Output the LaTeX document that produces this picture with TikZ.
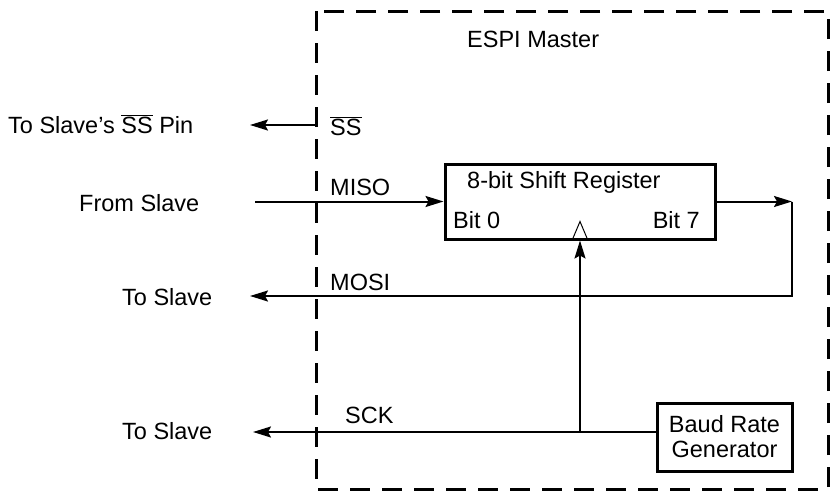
\documentclass[tikz,border=0pt]{standalone}
\usepackage{fontspec}
\setmainfont{Liberation Sans}
\usetikzlibrary{arrows.meta, positioning}

\begin{document}
\begin{tikzpicture}[x=1pt, y=-1pt,
      every node/.style={font=\fontsize{23.5}{25}\selectfont, inner sep=0pt},
      box/.style={draw, line width=3pt, minimum width=270pt, minimum height=75pt},
      gen/.style={draw, line width=3pt, align=center, minimum width=135pt,
                  minimum height=68pt},
      arr/.style={-{Stealth[length=18pt, width=11pt, inset=3pt]}, line width=2pt},
      frame/.style={line width=3pt, dash pattern=on 20pt off 12pt}
    ]
    \useasboundingbox (0,0) rectangle (830,493);

    % ESPI master outline
    \draw[frame] (316,11) rectangle (828,489);
    \node[anchor=base west] (title) at (467,47) {ESPI Master};

    \node[box] (sreg) at (580,201.5) {};
    \node[anchor=base west] (sregtxt) at (467,188) {8-bit Shift Register};
    \node[anchor=base west] (bit0) at (453,228) {Bit 0};
    \node[anchor=base east] (bit7) at (700,228) {Bit 7};
    \node[gen] (baud) at (724.5,437) {Baud Rate\\Generator};

    \coordinate (ssj) at (316,125);
    \coordinate (ssout) at (250,125);
    \coordinate (misoin) at (255,201.5);
    \coordinate (fb) at (792,201.5);
    \coordinate (mosiout) at (250,296);
    \coordinate (sckj) at (580,432);
    \coordinate (sckout) at (253,432);

    % pin labels
    \node[anchor=base west] (sslbl) at (330,135) {$\overline{\mbox{SS}}$};
    \node[anchor=base west] (misolbl) at (330,195) {MISO};
    \node[anchor=base west] (mosilbl) at (330,290) {MOSI};
    \node[anchor=base west] (scklbl) at (345,423) {SCK};

    % outside labels
    \node[anchor=base west] (sspin) at (8,133) {To Slave's $\overline{\mbox{SS}}$ Pin};
    \node[anchor=base west] (fromsl) at (79,211) {From Slave};
    \node[anchor=base west] (tosl1) at (122,305) {To Slave};
    \node[anchor=base west] (tosl2) at (122,439) {To Slave};

    \draw[arr] (ssj) -- (ssout);
    \draw[arr] (misoin) -- (sreg.west);
    \draw[arr] (sreg.east) -- (fb);
    \draw[arr] (fb) |- (mosiout);
    \draw[arr] (baud.west |- sckj) -- (sckout);
    \draw[arr] (sckj) -- (sreg.south);
    % clock input
    \draw[line width=1pt] ([xshift=-8pt]sreg.south) -- ([yshift=19pt]sreg.south)
      -- ([xshift=8pt]sreg.south);
\end{tikzpicture}
\end{document}
